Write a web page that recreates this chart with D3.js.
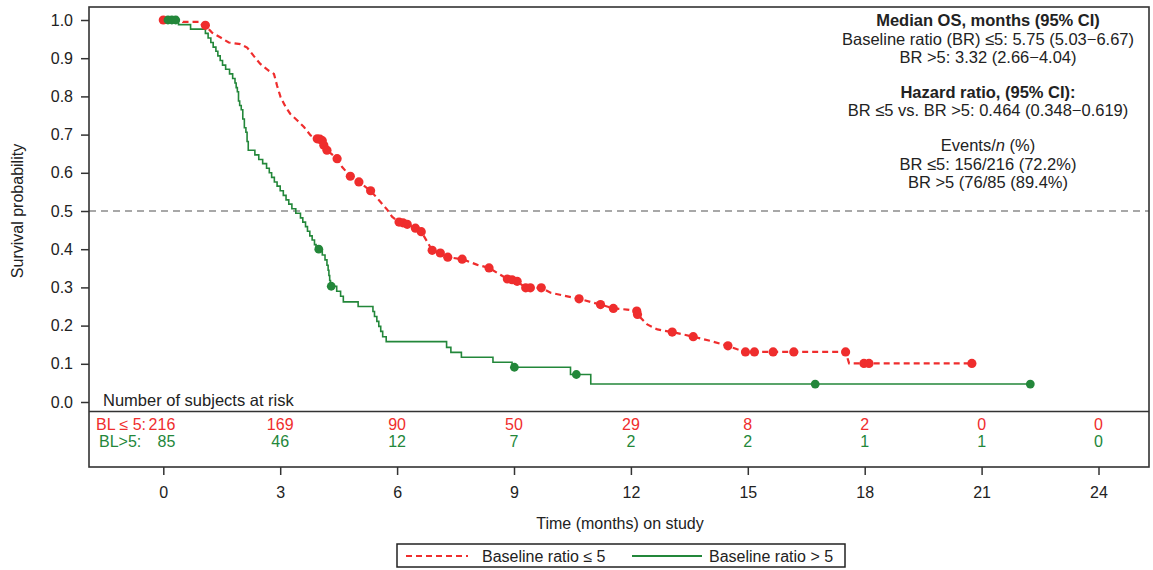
<!DOCTYPE html>
<html>
<head>
<meta charset="utf-8">
<script src="https://cdn.jsdelivr.net/npm/d3@7"></script>
<style>
  body { margin: 0; background: #fff; }
  text { font-family: "Liberation Sans", Arial, sans-serif; }
</style>
</head>
<body>
<div class="km-container"></div>
<script>
'use strict'
// Data.
const timeTicks = [0, 3, 6, 9, 12, 15, 18, 21, 24];
const survTicks = [0, 0.1, 0.2, 0.3, 0.4, 0.5, 0.6, 0.7, 0.8, 0.9, 1.0];

// Baseline ratio <= 5 (red, dashed) traced path
const redTimes = [0, 0.45, 0.5, 0.95, 1.0, 1.08, 1.25, 1.47, 1.68, 1.98, 2.15, 2.32, 2.49, 2.71, 2.84, 2.92,
  3.01, 3.14, 3.26, 3.44, 3.61, 3.78, 3.95, 4.08, 4.12, 4.2, 4.46, 4.59, 4.8, 5.02, 5.32, 5.53, 5.75,
  5.87, 6.05, 6.26, 6.47, 6.62, 6.77, 6.9, 7.11, 7.3, 7.67, 8.06, 8.36, 8.65, 8.83, 9.08, 9.3, 9.7,
  9.94, 10.67, 11.22, 11.55, 11.9, 12.15, 12.17, 12.42, 12.68, 13.06, 13.6, 14.04, 14.49, 14.73,
  14.94, 17.51, 17.6, 20.75];
const redSurv = [1.0, 1.0, 0.995, 0.995, 0.986, 0.986, 0.967, 0.954, 0.941, 0.937, 0.928, 0.906, 0.885,
  0.867, 0.859, 0.828, 0.798, 0.772, 0.754, 0.737, 0.72, 0.698, 0.689, 0.684, 0.672, 0.659, 0.637,
  0.615, 0.591, 0.576, 0.553, 0.529, 0.503, 0.485, 0.471, 0.465, 0.455, 0.446, 0.42, 0.397, 0.39,
  0.379, 0.374, 0.359, 0.351, 0.333, 0.322, 0.316, 0.299, 0.299, 0.286, 0.27, 0.255, 0.245, 0.242,
  0.238, 0.229, 0.203, 0.19, 0.183, 0.171, 0.16, 0.147, 0.138, 0.131, 0.131, 0.101, 0.101];
const redCensorTimes = [0, 1.08, 3.95, 4.02, 4.08, 4.12, 4.2, 4.46, 4.8, 5.02, 5.32, 6.05, 6.15, 6.26,
  6.47, 6.62, 6.9, 7.11, 7.3, 7.67, 8.36, 8.83, 8.95, 9.08, 9.3, 9.42, 9.7, 10.67, 11.22, 11.55,
  12.15, 12.17, 13.06, 13.6, 14.49, 14.94, 15.17, 15.65, 16.18, 17.51, 17.98, 18.11, 20.75];
const redCensorSurv = [1.0, 0.986, 0.689, 0.688, 0.684, 0.672, 0.659, 0.637, 0.591, 0.576, 0.553,
  0.471, 0.469, 0.465, 0.455, 0.446, 0.397, 0.39, 0.379, 0.374, 0.351, 0.322, 0.32, 0.316, 0.299,
  0.299, 0.299, 0.27, 0.255, 0.245, 0.238, 0.229, 0.183, 0.171, 0.147, 0.131, 0.131, 0.131, 0.131,
  0.131, 0.101, 0.101, 0.101];

// Baseline ratio > 5 (green, solid) step points
const greenTimes = [0, 0.39, 0.7, 1.08, 1.15, 1.22, 1.28, 1.35, 1.4, 1.46, 1.52, 1.6, 1.7, 1.78, 1.84,
  1.87, 1.9, 1.93, 1.96, 2.0, 2.04, 2.08, 2.12, 2.15, 2.18, 2.35, 2.45, 2.55, 2.65, 2.72, 2.78, 2.85,
  2.92, 3.0, 3.08, 3.15, 3.22, 3.3, 3.4, 3.52, 3.58, 3.65, 3.7, 3.76, 3.82, 3.88, 3.92, 4.08, 4.15,
  4.2, 4.23, 4.25, 4.27, 4.29, 4.45, 4.55, 4.62, 5.0, 5.38, 5.42, 5.48, 5.53, 5.58, 5.63, 5.72, 7.27,
  7.38, 7.65, 8.46, 8.95, 10.45, 10.97, 22.25];
const greenSurv = [1.0, 0.988, 0.976, 0.965, 0.953, 0.941, 0.929, 0.918, 0.906, 0.894, 0.882, 0.871,
  0.859, 0.847, 0.835, 0.823, 0.812, 0.788, 0.776, 0.765, 0.741, 0.718, 0.706, 0.682, 0.659, 0.647,
  0.635, 0.624, 0.612, 0.6, 0.588, 0.576, 0.565, 0.553, 0.541, 0.529, 0.518, 0.506, 0.494, 0.482,
  0.471, 0.459, 0.447, 0.435, 0.424, 0.412, 0.4, 0.385, 0.372, 0.358, 0.345, 0.331, 0.318, 0.303,
  0.29, 0.277, 0.262, 0.25, 0.237, 0.224, 0.211, 0.198, 0.185, 0.171, 0.158, 0.143, 0.13, 0.117,
  0.104, 0.091, 0.072, 0.047, 0.047];
const greenCensorTimes = [0.12, 0.22, 0.32, 3.99, 4.31, 9.01, 10.6, 16.73, 22.25];
const greenCensorSurv = [1.0, 1.0, 1.0, 0.4, 0.303, 0.091, 0.072, 0.047, 0.047];

// Number at risk
const riskRed = [216, 169, 90, 50, 29, 8, 2, 0, 0];
const riskGreen = [85, 46, 12, 7, 2, 2, 1, 1, 0];

const noteLines = [
  { text: 'Median OS, months (95% CI)', bold: true },
  { text: 'Baseline ratio (BR) \u22645: 5.75 (5.03\u22126.67)' },
  { text: 'BR >5: 3.32 (2.66\u22124.04)' },
  { text: 'Hazard ratio, (95% CI):', bold: true, gap: true },
  { text: 'BR \u22645 vs. BR >5: 0.464 (0.348\u22120.619)' },
  { text: 'Events/', italic: 'n', rest: ' (%)', gap: true },
  { text: 'BR \u22645: 156/216 (72.2%)' },
  { text: 'BR >5 (76/85 (89.4%)' },
];

const RED = '#ef2d2d';
const GREEN = '#23873a';
const INK = '#222';

// Layout
const W = 1153, H = 570;
const box = { left: 89, top: 7, right: 1149, bottom: 467 };
const riskTop = 411.5;

const xScale = d3.scaleLinear([0, 24], [163.3, 1098.5]);
const yScale = d3.scaleLinear([0, 1], [402, 20]);

const svg = d3.select('.km-container')
  .append('svg')
  .attr('width', W)
  .attr('height', H);

// Reference line at 0.5
svg.append('line')
  .attr('x1', box.left).attr('x2', box.right)
  .attr('y1', yScale(0.5)).attr('y2', yScale(0.5))
  .attr('stroke', '#8c8c8c')
  .attr('stroke-width', 1.3)
  .attr('stroke-dasharray', '7,5');

// Curves
const redData = d3.zip(redTimes, redSurv);
const greenData = d3.zip(greenTimes, greenSurv);

svg.append('path')
  .datum(greenData)
  .attr('fill', 'none')
  .attr('stroke', GREEN)
  .attr('stroke-width', 1.6)
  .attr('d', d3.line(d => xScale(d[0]), d => yScale(d[1])).curve(d3.curveStepAfter));

svg.append('path')
  .datum(redData)
  .attr('fill', 'none')
  .attr('stroke', RED)
  .attr('stroke-width', 2.2)
  .attr('stroke-dasharray', '6,4')
  .attr('d', d3.line(d => xScale(d[0]), d => yScale(d[1])));

// Censor marks
svg.append('g')
  .selectAll('circle')
  .data(d3.zip(redCensorTimes, redCensorSurv))
  .join('circle')
  .attr('cx', d => xScale(d[0]))
  .attr('cy', d => yScale(d[1]))
  .attr('r', 4.6)
  .attr('fill', RED);

svg.append('g')
  .selectAll('circle')
  .data(d3.zip(greenCensorTimes, greenCensorSurv))
  .join('circle')
  .attr('cx', d => xScale(d[0]))
  .attr('cy', d => yScale(d[1]))
  .attr('r', 4.4)
  .attr('fill', GREEN);

// Frame + risk table separator
svg.append('rect')
  .attr('x', box.left).attr('y', box.top)
  .attr('width', box.right - box.left)
  .attr('height', box.bottom - box.top)
  .attr('fill', 'none')
  .attr('stroke', '#333')
  .attr('stroke-width', 1.6);

svg.append('line')
  .attr('x1', box.left).attr('x2', box.right)
  .attr('y1', riskTop).attr('y2', riskTop)
  .attr('stroke', '#333')
  .attr('stroke-width', 1.6);

// Y axis
const yAxis = d3.axisLeft(yScale)
  .tickValues(survTicks)
  .tickFormat(d3.format('.1f'))
  .tickSize(8)
  .tickPadding(8);

const yAxisDraw = svg.append('g')
  .attr('class', 'y axis')
  .attr('transform', `translate(${box.left}, 0)`)
  .call(yAxis);
yAxisDraw.select('.domain').remove();
yAxisDraw.selectAll('line').attr('stroke', '#333').attr('stroke-width', 1.5);
yAxisDraw.selectAll('text').attr('font-size', 16).attr('fill', INK)
  .style('font-family', '"Liberation Sans", Arial, sans-serif');

// X axis
const xAxis = d3.axisBottom(xScale)
  .tickValues(timeTicks)
  .tickSize(8)
  .tickPadding(12);

const xAxisDraw = svg.append('g')
  .attr('class', 'x axis')
  .attr('transform', `translate(0, ${box.bottom})`)
  .call(xAxis);
xAxisDraw.select('.domain').remove();
xAxisDraw.selectAll('line').attr('stroke', '#333').attr('stroke-width', 1.5);
xAxisDraw.selectAll('text').attr('font-size', 16).attr('fill', INK)
  .style('font-family', '"Liberation Sans", Arial, sans-serif');

// Axis titles
svg.append('text')
  .attr('transform', `translate(23, ${yScale(0.5)}) rotate(-90)`)
  .attr('text-anchor', 'middle')
  .attr('font-size', 16)
  .attr('fill', INK)
  .text('Survival probability');

svg.append('text')
  .attr('x', 620)
  .attr('y', 529)
  .attr('text-anchor', 'middle')
  .attr('font-size', 16)
  .attr('fill', INK)
  .text('Time (months) on study');

// Number at risk
svg.append('text')
  .attr('x', 103)
  .attr('y', 406)
  .attr('font-size', 16.5)
  .attr('fill', INK)
  .text('Number of subjects at risk');

const riskRows = [
  { label: 'BL \u2264 5:', values: riskRed, color: RED, y: 430, lx: 96 },
  { label: 'BL>5:', values: riskGreen, color: GREEN, y: 446.5, lx: 99 },
];

riskRows.forEach(row => {
  const g = svg.append('g').attr('fill', row.color).attr('font-size', 16);
  g.append('text').attr('x', row.lx).attr('y', row.y).text(row.label);
  g.selectAll('.risk')
    .data(row.values)
    .join('text')
    .attr('class', 'risk')
    .attr('x', (d, i) => i === 0 ? xScale(timeTicks[i]) + 12 : xScale(timeTicks[i]))
    .attr('y', row.y)
    .attr('text-anchor', (d, i) => i === 0 ? 'end' : 'middle')
    .text(d => d);
});

// Annotation block
const noteX = 988;
let noteY = 26;
noteLines.forEach((d, i) => {
  if (i > 0) noteY += d.gap ? 34.75 : 18.5;
  const t = svg.append('text')
    .attr('x', noteX)
    .attr('y', noteY)
    .attr('text-anchor', 'middle')
    .attr('font-size', 16.5)
    .attr('font-weight', d.bold ? 'bold' : 'normal')
    .attr('fill', INK);
  t.append('tspan').text(d.text);
  if (d.italic) {
    t.append('tspan').attr('font-style', 'italic').text(d.italic);
    t.append('tspan').text(d.rest);
  }
});

// Legend
const legend = svg.append('g');
legend.append('rect')
  .attr('x', 397).attr('y', 544)
  .attr('width', 448).attr('height', 23)
  .attr('fill', 'none')
  .attr('stroke', INK)
  .attr('stroke-width', 1.5);

legend.append('line')
  .attr('x1', 406).attr('x2', 468)
  .attr('y1', 556).attr('y2', 556)
  .attr('stroke', RED)
  .attr('stroke-width', 1.8)
  .attr('stroke-dasharray', '6,4');
legend.append('text')
  .attr('x', 482).attr('y', 561.5)
  .attr('font-size', 16).attr('fill', INK)
  .text('Baseline ratio \u2264 5');

legend.append('line')
  .attr('x1', 632).attr('x2', 702)
  .attr('y1', 556).attr('y2', 556)
  .attr('stroke', GREEN)
  .attr('stroke-width', 1.8);
legend.append('text')
  .attr('x', 709).attr('y', 561.5)
  .attr('font-size', 16).attr('fill', INK)
  .text('Baseline ratio > 5');
</script>
</body>
</html>
